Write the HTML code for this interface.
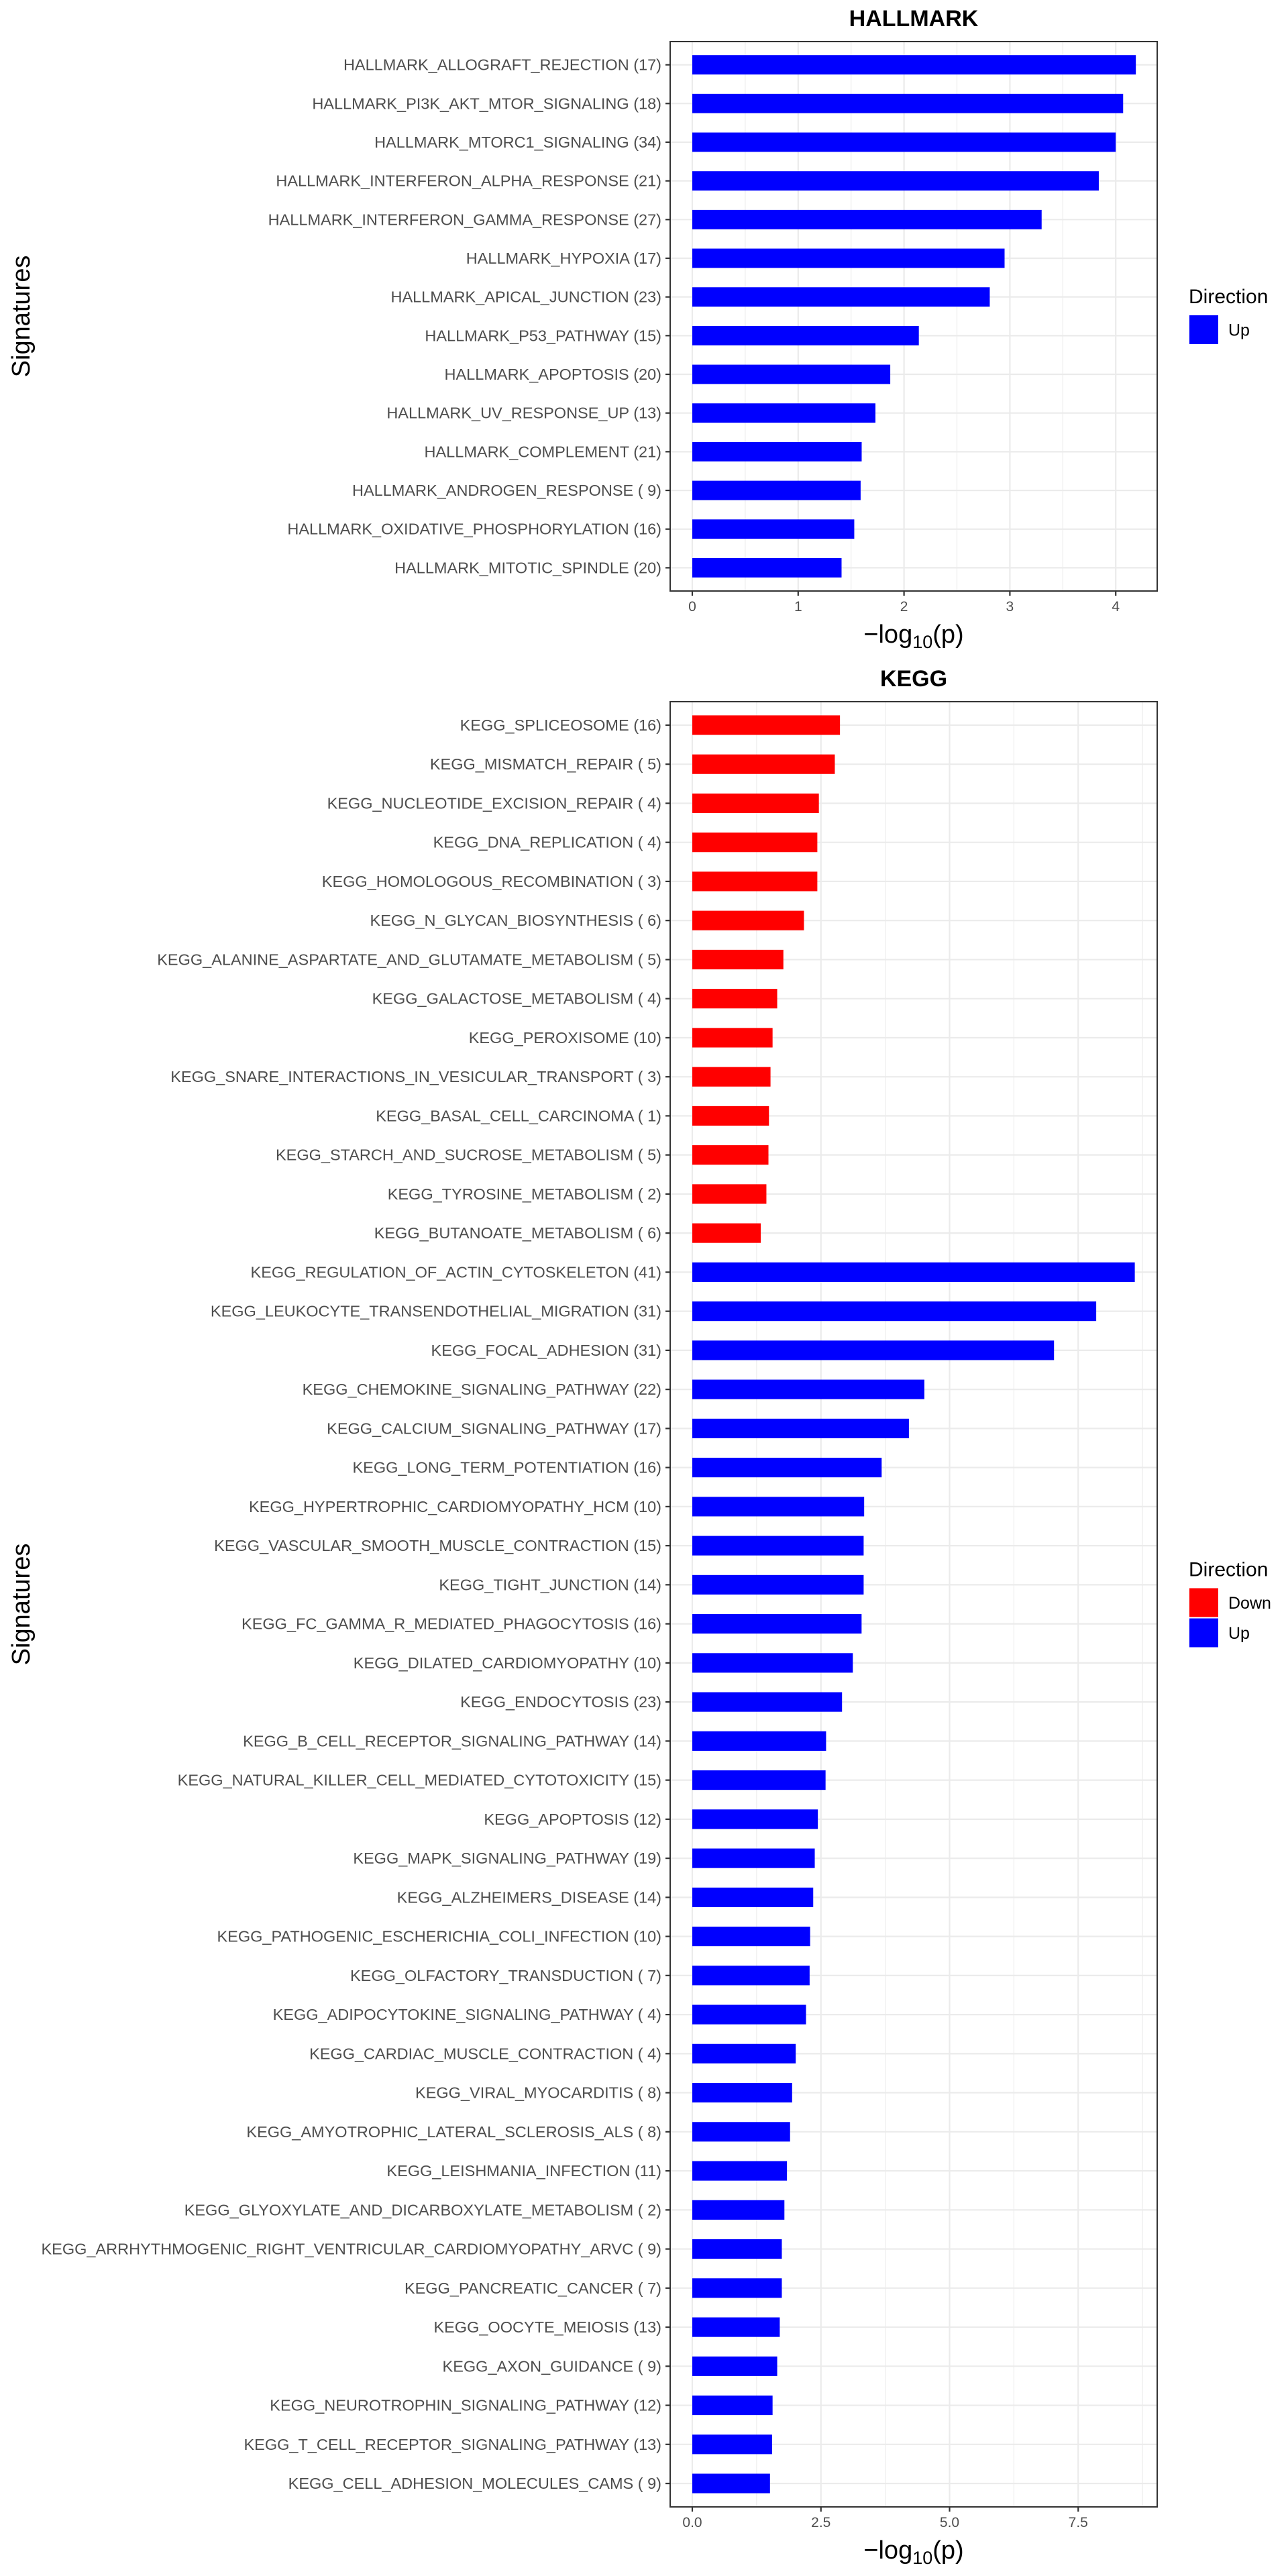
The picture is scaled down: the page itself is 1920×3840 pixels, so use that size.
<!DOCTYPE html>
<html><head><meta charset="utf-8">
<style>
html,body{margin:0;padding:0;background:#fff;}
svg{display:block;font-family:"Liberation Sans",Arial,sans-serif;}
</style></head>
<body>
<svg id="chart" width="1920" height="3840" viewBox="0 0 1920 3840" xmlns="http://www.w3.org/2000/svg">
<rect width="1920" height="3840" fill="#fff"/>
</svg>
<script>
const hallmarkNames = ["HALLMARK_ALLOGRAFT_REJECTION (17)","HALLMARK_PI3K_AKT_MTOR_SIGNALING (18)","HALLMARK_MTORC1_SIGNALING (34)","HALLMARK_INTERFERON_ALPHA_RESPONSE (21)","HALLMARK_INTERFERON_GAMMA_RESPONSE (27)","HALLMARK_HYPOXIA (17)","HALLMARK_APICAL_JUNCTION (23)","HALLMARK_P53_PATHWAY (15)","HALLMARK_APOPTOSIS (20)","HALLMARK_UV_RESPONSE_UP (13)","HALLMARK_COMPLEMENT (21)","HALLMARK_ANDROGEN_RESPONSE ( 9)","HALLMARK_OXIDATIVE_PHOSPHORYLATION (16)","HALLMARK_MITOTIC_SPINDLE (20)"];
const hallmarkValues = [4.19,4.07,4.0,3.84,3.30,2.95,2.81,2.14,1.87,1.73,1.60,1.59,1.53,1.41];
const hallmarkDirs = ["Up","Up","Up","Up","Up","Up","Up","Up","Up","Up","Up","Up","Up","Up"];
const hallmarkTicks = [0,1,2,3,4];
const hallmarkTickLabels = ["0","1","2","3","4"];

const keggNames = ["KEGG_SPLICEOSOME (16)","KEGG_MISMATCH_REPAIR ( 5)","KEGG_NUCLEOTIDE_EXCISION_REPAIR ( 4)","KEGG_DNA_REPLICATION ( 4)","KEGG_HOMOLOGOUS_RECOMBINATION ( 3)","KEGG_N_GLYCAN_BIOSYNTHESIS ( 6)","KEGG_ALANINE_ASPARTATE_AND_GLUTAMATE_METABOLISM ( 5)","KEGG_GALACTOSE_METABOLISM ( 4)","KEGG_PEROXISOME (10)","KEGG_SNARE_INTERACTIONS_IN_VESICULAR_TRANSPORT ( 3)","KEGG_BASAL_CELL_CARCINOMA ( 1)","KEGG_STARCH_AND_SUCROSE_METABOLISM ( 5)","KEGG_TYROSINE_METABOLISM ( 2)","KEGG_BUTANOATE_METABOLISM ( 6)","KEGG_REGULATION_OF_ACTIN_CYTOSKELETON (41)","KEGG_LEUKOCYTE_TRANSENDOTHELIAL_MIGRATION (31)","KEGG_FOCAL_ADHESION (31)","KEGG_CHEMOKINE_SIGNALING_PATHWAY (22)","KEGG_CALCIUM_SIGNALING_PATHWAY (17)","KEGG_LONG_TERM_POTENTIATION (16)","KEGG_HYPERTROPHIC_CARDIOMYOPATHY_HCM (10)","KEGG_VASCULAR_SMOOTH_MUSCLE_CONTRACTION (15)","KEGG_TIGHT_JUNCTION (14)","KEGG_FC_GAMMA_R_MEDIATED_PHAGOCYTOSIS (16)","KEGG_DILATED_CARDIOMYOPATHY (10)","KEGG_ENDOCYTOSIS (23)","KEGG_B_CELL_RECEPTOR_SIGNALING_PATHWAY (14)","KEGG_NATURAL_KILLER_CELL_MEDIATED_CYTOTOXICITY (15)","KEGG_APOPTOSIS (12)","KEGG_MAPK_SIGNALING_PATHWAY (19)","KEGG_ALZHEIMERS_DISEASE (14)","KEGG_PATHOGENIC_ESCHERICHIA_COLI_INFECTION (10)","KEGG_OLFACTORY_TRANSDUCTION ( 7)","KEGG_ADIPOCYTOKINE_SIGNALING_PATHWAY ( 4)","KEGG_CARDIAC_MUSCLE_CONTRACTION ( 4)","KEGG_VIRAL_MYOCARDITIS ( 8)","KEGG_AMYOTROPHIC_LATERAL_SCLEROSIS_ALS ( 8)","KEGG_LEISHMANIA_INFECTION (11)","KEGG_GLYOXYLATE_AND_DICARBOXYLATE_METABOLISM ( 2)","KEGG_ARRHYTHMOGENIC_RIGHT_VENTRICULAR_CARDIOMYOPATHY_ARVC ( 9)","KEGG_PANCREATIC_CANCER ( 7)","KEGG_OOCYTE_MEIOSIS (13)","KEGG_AXON_GUIDANCE ( 9)","KEGG_NEUROTROPHIN_SIGNALING_PATHWAY (12)","KEGG_T_CELL_RECEPTOR_SIGNALING_PATHWAY (13)","KEGG_CELL_ADHESION_MOLECULES_CAMS ( 9)"];
const keggValues = [2.87,2.77,2.46,2.43,2.43,2.17,1.77,1.65,1.56,1.52,1.49,1.48,1.44,1.33,8.60,7.85,7.03,4.51,4.21,3.68,3.34,3.33,3.33,3.29,3.12,2.91,2.60,2.59,2.44,2.38,2.35,2.29,2.28,2.21,2.01,1.94,1.90,1.84,1.79,1.74,1.74,1.70,1.65,1.56,1.55,1.51];
const keggDirs = ["Down","Down","Down","Down","Down","Down","Down","Down","Down","Down","Down","Down","Down","Down","Up","Up","Up","Up","Up","Up","Up","Up","Up","Up","Up","Up","Up","Up","Up","Up","Up","Up","Up","Up","Up","Up","Up","Up","Up","Up","Up","Up","Up","Up","Up","Up"];
const keggTicks = [0,2.5,5,7.5];
const keggTickLabels = ["0.0","2.5","5.0","7.5"];

const NS = "http://www.w3.org/2000/svg";
const svg = document.getElementById("chart");
const COLORS = {Up:"#0000FF", Down:"#FF0000"};
function mk(tag, attrs, parent){
  const e = document.createElementNS(NS, tag);
  for (const k in attrs) e.setAttribute(k, attrs[k]);
  (parent||svg).appendChild(e);
  return e;
}

function panel(cfg){
  const g = mk("g", {});
  
  
  const L=999, R=1725, T=cfg.top, B=cfg.bottom;
  const x0 = 1032;
  const xs = v => x0 + v*cfg.unit;
  const n = cfg.names.length;
  const step = (B - T) / (n - 1 + 1.2);
  const ys = i => T + 0.6*step + i*step;
  for (let v = cfg.minorStep/2 ; xs(v) < R; v += cfg.minorStep){
    if (xs(v) <= L) continue;
    const l = mk("line",{x1:xs(v),x2:xs(v),y1:T,y2:B,stroke:"#EBEBEB","stroke-width":1.1},g);
    
    
  }
  cfg.ticks.forEach(v=>{
    const l = mk("line",{x1:xs(v),x2:xs(v),y1:T,y2:B,stroke:"#EBEBEB","stroke-width":2.2},g);
    
    
  });
  for (let i=0;i<n;i++){
    const l = mk("line",{x1:L,x2:R,y1:ys(i),y2:ys(i),stroke:"#EBEBEB","stroke-width":2.2},g);
    
    
  }
  const bh = step*0.5;
  cfg.values.forEach((v,i)=>{
    const r = mk("rect",{x:xs(0),y:ys(i)-bh/2,width:xs(v)-xs(0),height:bh,fill:COLORS[cfg.dirs[i]]},g);
    
    
    const t = mk("text",{x:986,y:ys(i)+8,"text-anchor":"end","font-size":23.5,fill:"#4D4D4D"},g);
    t.textContent = cfg.names[i];
    
    
    mk("line",{x1:992,x2:999,y1:ys(i),y2:ys(i),stroke:"#333","stroke-width":2.2},g);
  });
  const b = mk("rect",{x:L,y:T,width:R-L,height:B-T,fill:"none",stroke:"#333","stroke-width":2},g);
  
  
  cfg.ticks.forEach((v,i)=>{
    mk("line",{x1:xs(v),x2:xs(v),y1:B,y2:B+7,stroke:"#333","stroke-width":2.2},g);
    const t = mk("text",{x:xs(v),y:B+30,"text-anchor":"middle","font-size":21,fill:"#4D4D4D"},g);
    t.textContent = cfg.tickLabels[i];
    
    
  });
  const tt = mk("text",{x:1362,y:T-23,"text-anchor":"middle","font-size":34,"font-weight":"bold",fill:"#000"},g);
  tt.textContent = cfg.title;
  
  
  const xt = mk("text",{x:1362,y:B+77,"text-anchor":"middle","font-size":38,fill:"#000"},g);
  
  
  const s1 = mk("tspan",{},xt); s1.textContent = "\u2212log";
  const s2 = mk("tspan",{"font-size":27,dy:8},xt); s2.textContent = "10";
  const s3 = mk("tspan",{dy:-8},xt); s3.textContent = "(p)";
  const cy = (T+B)/2;
  const yt = mk("text",{x:0,y:0,"text-anchor":"middle","font-size":38,fill:"#000",transform:`translate(44,${cy}) rotate(-90)`},g);
  yt.textContent = "Signatures";
  
  
  const levels = cfg.legend;
  const keyH = 43, gap = 2;
  const total = 40 + levels.length*keyH + (levels.length-1)*gap;
  let top = cy - total/2;
  const lt = mk("text",{x:1772,y:top+22,"font-size":30,fill:"#000"},g);
  lt.textContent = "Direction";
  
  
  levels.forEach((lv,i)=>{
    const ky = top + 40 + i*(keyH+gap);
    const k = mk("rect",{x:1773,y:ky,width:43,height:keyH,fill:COLORS[lv]},g);
    
    
    const kt = mk("text",{x:1831,y:ky+keyH/2+9,"font-size":25,fill:"#000"},g);
    kt.textContent = lv;
    
    
  });
}

panel({key:"hallmark",title:"HALLMARK",top:62,bottom:881,unit:157.8,minorStep:1,
  names:hallmarkNames,values:hallmarkValues,dirs:hallmarkDirs,ticks:hallmarkTicks,tickLabels:hallmarkTickLabels,legend:["Up"]});
panel({key:"kegg",title:"KEGG",top:1046,bottom:3737,unit:76.7,minorStep:2.5,
  names:keggNames,values:keggValues,dirs:keggDirs,ticks:keggTicks,tickLabels:keggTickLabels,legend:["Down","Up"]});
</script>
</body></html>
